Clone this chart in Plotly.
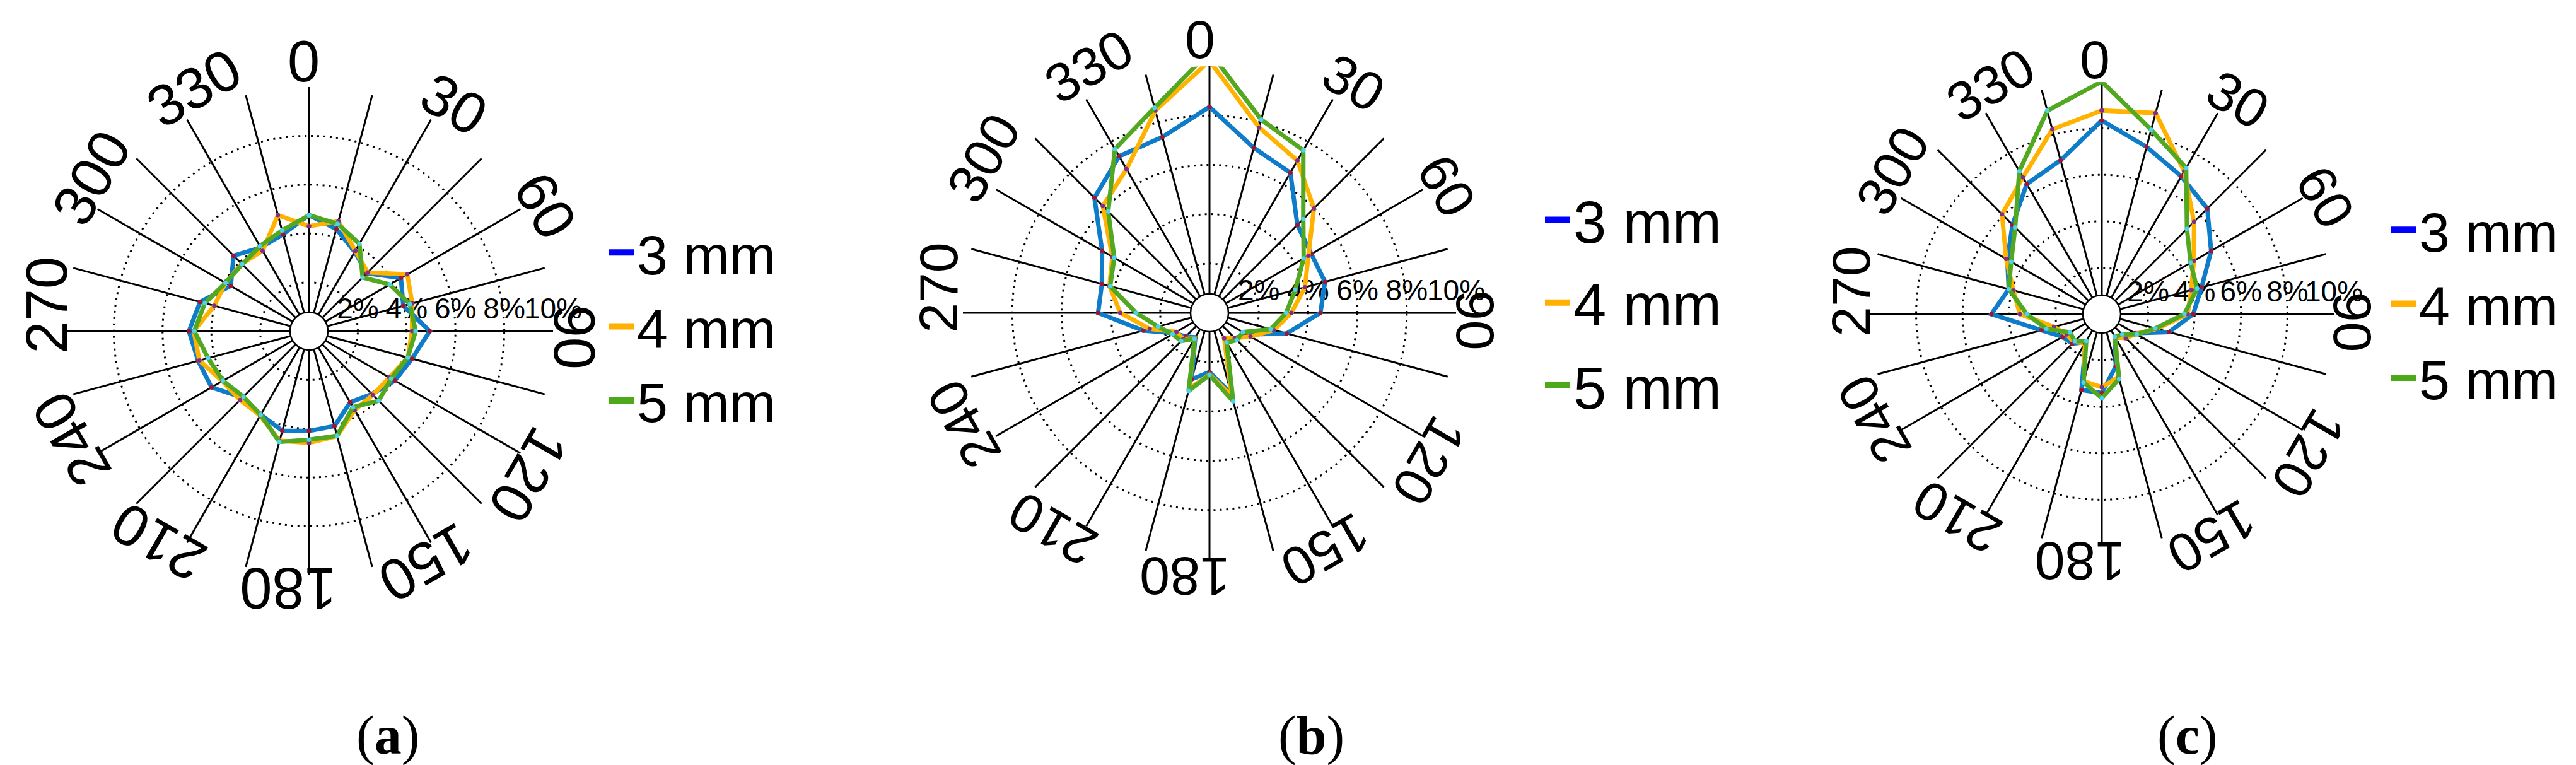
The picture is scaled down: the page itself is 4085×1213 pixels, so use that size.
import math
import plotly.graph_objects as go

W, H = 4085, 1213

directions = list(range(0, 360, 15))
angle_labels = list(range(0, 360, 30))
radial_ticks = [2, 4, 6, 8, 10]
radial_ticktext = ["2%", "4%", "6%", "8%", "10%"]
series_names = ["3 mm", "4 mm", "5 mm"]
panel_labels = ["a", "b", "c"]

# (a)
a_3mm = [4.75, 4.33, 3.75, 3.35, 4.35, 4.00, 4.95, 4.37, 4.06, 3.65, 3.37, 4.03,
         4.09, 4.23, 3.95, 3.85, 4.61, 4.70, 4.92, 4.62, 3.70, 4.37, 3.95, 4.11]
a_4mm = [4.30, 4.66, 3.80, 3.40, 4.65, 4.38, 4.22, 4.19, 3.80, 3.70, 3.74, 4.45,
         4.58, 4.65, 4.00, 3.99, 4.10, 4.65, 4.72, 4.02, 3.95, 3.90, 3.80, 4.92]
a_5mm = [4.75, 4.55, 4.13, 3.11, 3.82, 4.28, 4.37, 4.19, 3.89, 4.04, 3.60, 4.44,
         4.45, 4.70, 3.96, 3.80, 4.07, 4.28, 4.70, 4.42, 3.95, 3.87, 4.02, 4.27]
# (b)
b_3mm = [8.35, 6.93, 6.56, 5.04, 4.77, 4.85, 4.50, 3.24, 1.75, 1.45, 1.25, 3.40,
         2.40, 2.79, 1.15, 1.36, 1.65, 2.78, 4.52, 4.52, 5.03, 6.60, 7.33, 7.38]
b_4mm = [10.22, 7.78, 7.13, 5.99, 4.63, 4.01, 3.32, 2.70, 1.92, 1.45, 1.19, 3.50,
         2.50, 3.20, 1.20, 1.50, 1.55, 2.51, 3.62, 4.20, 4.55, 6.12, 6.73, 8.49]
b_5mm = [10.59, 8.11, 7.61, 5.38, 4.41, 3.60, 3.11, 2.57, 1.56, 1.57, 1.39, 3.72,
         2.52, 3.28, 1.21, 1.62, 1.73, 2.16, 2.98, 4.17, 4.46, 5.81, 7.67, 8.61]
# (c)
c_3mm = [8.34, 7.46, 6.85, 6.43, 5.44, 4.45, 3.94, 3.00, 1.65, 1.46, 1.15, 2.33,
         3.40, 3.38, 1.40, 1.80, 1.95, 2.69, 4.76, 4.15, 4.70, 5.44, 6.47, 6.86]
c_4mm = [8.77, 8.97, 7.10, 5.62, 4.58, 3.99, 3.70, 2.45, 1.70, 1.46, 1.15, 2.80,
         3.15, 3.00, 1.45, 1.70, 1.75, 2.13, 3.53, 3.94, 4.76, 6.08, 6.80, 8.24]
c_5mm = [10.02, 8.22, 7.27, 5.19, 4.42, 4.25, 3.56, 2.39, 1.74, 1.25, 1.12, 2.89,
         3.62, 3.05, 1.34, 1.65, 1.58, 2.47, 3.23, 4.15, 4.51, 5.28, 7.11, 9.07]

panels_data = [[a_3mm, a_4mm, a_5mm], [b_3mm, b_4mm, b_5mm], [c_3mm, c_4mm, c_5mm]]

line_colors = ["#0E7CC8", "#FFB300", "#52A820"]
marker_colors = ["#A2142F", "#7E2F8E", "#4DD2F0"]
legend_colors = ["#0000FF", "#FFB000", "#4CA91A"]

# layout geometry (pixels): center x, center y, radius
geom = [(482, 517, 387), (1910, 488, 391), (3325, 490, 368)]
# angular-label ring: center x, center y, distance
label_ring = [(484, 508, 419), (1906, 481, 427), (3324, 485, 399)]
label_shift = [-1.5, 3, 3, 2.5, 4.5, 4, 4.8, 5, 4.5, 4.5, 4, 4]
label_font = [92, 86, 86]
legend_pos = [(952, 510), (2437, 472), (3778, 474)]
legend_font = [88, 94, 88]
legend_gap = [0, 6, 0]
panel_label_x = [607, 2071, 3460]

fig = go.Figure()

for p in range(3):
    sub = "polar" if p == 0 else f"polar{p + 1}"
    leg = "legend" if p == 0 else f"legend{p + 1}"
    for s in range(3):
        r = panels_data[p][s]
        fig.add_trace(go.Scatterpolar(
            r=r + [r[0]], theta=directions + [directions[0]],
            mode="lines+markers", subplot=sub, cliponaxis=False,
            line=dict(color=line_colors[s], width=7),
            marker=dict(color=marker_colors[s], size=7),
            name=series_names[s], showlegend=False, hoverinfo="skip"))
    for s in range(3):
        fig.add_trace(go.Scatterpolar(
            r=[None], theta=[None], mode="lines", subplot=sub,
            line=dict(color=legend_colors[s], width=10),
            name=series_names[s], legend=leg, legendgroup=f"{p}-{s}", showlegend=True))
    # central white hole
    fig.add_trace(go.Scatterpolar(
        r=[0], theta=[0], mode="markers", subplot=sub, cliponaxis=False,
        marker=dict(color="white", size=60, line=dict(color="black", width=2.5)),
        showlegend=False, hoverinfo="skip"))

layout = dict(width=W, height=H, margin=dict(l=0, r=0, t=0, b=0),
              paper_bgcolor="white", plot_bgcolor="white", showlegend=True,
              font=dict(family="Liberation Sans, Arial", color="black"))

annotations = []
for p in range(3):
    cx, cy, R = geom[p]
    sub = "polar" if p == 0 else f"polar{p + 1}"
    layout[sub] = dict(
        domain=dict(x=[(cx - R) / W, (cx + R) / W], y=[1 - (cy + R) / H, 1 - (cy - R) / H]),
        bgcolor="rgba(0,0,0,0)",
        radialaxis=dict(range=[0, 10], tickvals=radial_ticks, ticktext=radial_ticktext,
                        angle=0, tickangle=0, side="counterclockwise", ticks="",
                        showline=True, linecolor="black", linewidth=2.5,
                        showgrid=True, gridcolor="black",
                        gridwidth=2.5, griddash="3px,7px", layer="below traces",
                        tickfont=dict(size=46, family="Liberation Sans, Arial", color="black")),
        angularaxis=dict(rotation=90, direction="clockwise", dtick=15, showticklabels=False,
                         ticks="", showline=False, showgrid=True, gridcolor="black",
                         gridwidth=2.5, layer="below traces"),
    )
    leg = "legend" if p == 0 else f"legend{p + 1}"
    lx, ly = legend_pos[p]
    layout[leg] = dict(x=lx / W, y=1 - ly / H, xanchor="left", yanchor="middle",
                       bgcolor="rgba(0,0,0,0)", itemwidth=40, tracegroupgap=legend_gap[p],
                       font=dict(size=legend_font[p], family="Liberation Sans, Arial",
                                 color="black"))
    lcx, lcy, d = label_ring[p]
    for k, a in enumerate(angle_labels):
        ang = math.radians(a + label_shift[k])
        x = lcx + d * math.sin(ang)
        y = lcy - d * math.cos(ang)
        annotations.append(dict(x=x / W, y=1 - y / H, xref="paper", yref="paper",
                                text=str(a), showarrow=False, textangle=a,
                                xanchor="center", yanchor="middle",
                                font=dict(size=label_font[p], family="Liberation Sans, Arial",
                                          color="black")))
    annotations.append(dict(x=panel_label_x[p] / W, y=1 - 1158 / H, xref="paper", yref="paper",
                            text=f"(<b>{panel_labels[p]}</b>)", showarrow=False,
                            xanchor="center", yanchor="middle",
                            font=dict(size=86, family="Liberation Serif, Times New Roman",
                                      color="black")))

layout["annotations"] = annotations
fig.update_layout(**layout)
fig.write_html("out.html")
